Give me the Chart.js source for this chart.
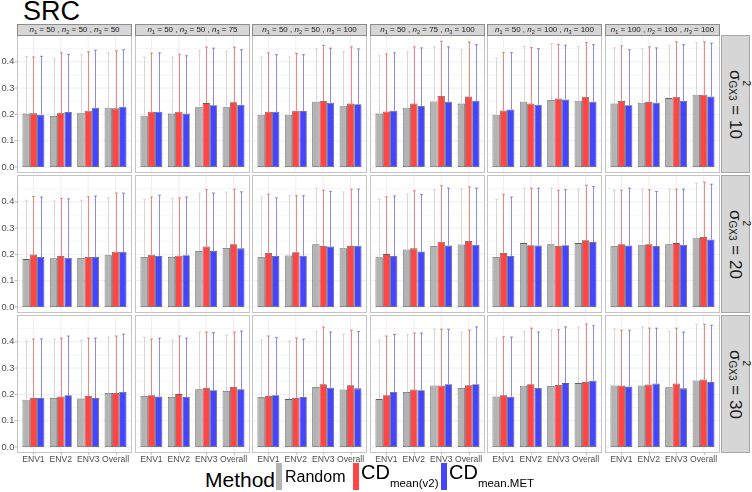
<!DOCTYPE html>
<html>
<head>
<meta charset="utf-8">
<script src="https://cdn.jsdelivr.net/npm/chart.js@4.4.1/dist/chart.umd.min.js"></script>
<style>
body{margin:0;width:752px;height:492px;position:relative;background:#fff;overflow:hidden;font-family:'Liberation Sans',Arial,sans-serif}
canvas{position:absolute}
.strip{position:absolute;box-sizing:border-box;background:#d6d6d6;border:1px solid #8c8c8c;color:#1a1a1a;font-size:8px;line-height:9px;text-align:center;white-space:nowrap}
.strip sub{font-size:5.6px;vertical-align:-1.5px;line-height:0}
.rstrip{position:absolute;box-sizing:border-box;background:#d6d6d6;border:1px solid #a6a6a6}
.rtext{position:absolute;width:138px;height:29px;line-height:29px;text-align:center;white-space:nowrap;color:#1a1a1a;font-size:17px;transform:rotate(90deg)}
.stack{display:inline-flex;flex-direction:column;align-items:flex-start;font-size:10px;line-height:10px;gap:4px;vertical-align:13px}
.txt{position:absolute;white-space:nowrap;line-height:1;color:#000}
.key{position:absolute;top:463px;width:6px;height:27px}
</style>
</head>
<body>
<div class="txt" style="left:23px;top:-2px;font-size:27px">SRC</div>
<script>
// facet labels
const envs = ['ENV1', 'ENV2', 'ENV3', 'Overall'];
const nSizes = [[50,50,50],[50,50,75],[50,50,100],[50,75,100],[50,100,100],[100,100,100]];
const sigmaGx3 = [10, 20, 30];
const yTicks = [0, 0.1, 0.2, 0.3, 0.4];
const legendLabels = [['Random',''], ['CD','mean(v2)'], ['CD','mean.MET']];

// means, [row][panel][env]
const randomMean = [
  [[0.203,0.194,0.206,0.223],[0.195,0.203,0.229,0.227],[0.199,0.199,0.248,0.233],[0.203,0.225,0.249,0.241],[0.199,0.248,0.255,0.252],[0.241,0.244,0.262,0.275]],
  [[0.182,0.185,0.186,0.197],[0.190,0.190,0.213,0.224],[0.190,0.196,0.239,0.223],[0.189,0.219,0.232,0.238],[0.190,0.243,0.239,0.243],[0.232,0.235,0.239,0.263]],
  [[0.180,0.186,0.184,0.205],[0.194,0.190,0.220,0.213],[0.190,0.182,0.228,0.219],[0.182,0.209,0.234,0.224],[0.192,0.233,0.232,0.243],[0.234,0.234,0.227,0.253]]
];
const v2Mean = [
  [[0.204,0.206,0.214,0.223],[0.210,0.210,0.243,0.246],[0.210,0.214,0.251,0.241],[0.211,0.241,0.270,0.268],[0.215,0.241,0.260,0.267],[0.251,0.247,0.267,0.275]],
  [[0.200,0.194,0.190,0.210],[0.199,0.195,0.230,0.239],[0.205,0.208,0.232,0.232],[0.201,0.223,0.248,0.251],[0.205,0.235,0.232,0.254],[0.239,0.239,0.243,0.266]],
  [[0.186,0.192,0.194,0.205],[0.197,0.201,0.224,0.228],[0.194,0.186,0.239,0.235],[0.197,0.219,0.234,0.235],[0.197,0.239,0.236,0.247],[0.234,0.238,0.241,0.257]]
];
const metMean = [
  [[0.199,0.209,0.225,0.229],[0.210,0.203,0.235,0.237],[0.210,0.213,0.244,0.239],[0.214,0.232,0.248,0.252],[0.219,0.237,0.257,0.248],[0.235,0.244,0.252,0.268]],
  [[0.190,0.187,0.190,0.210],[0.194,0.197,0.213,0.223],[0.194,0.195,0.230,0.233],[0.194,0.211,0.234,0.237],[0.194,0.234,0.235,0.247],[0.234,0.232,0.237,0.257]],
  [[0.186,0.197,0.186,0.209],[0.192,0.190,0.216,0.220],[0.197,0.190,0.225,0.223],[0.209,0.216,0.239,0.239],[0.191,0.224,0.243,0.252],[0.230,0.241,0.223,0.247]]
];

// upper ends of the error bars
const randomUpper = [
  [[0.420,0.411,0.427,0.434],[0.418,0.418,0.442,0.441],[0.418,0.418,0.449,0.439],[0.423,0.438,0.456,0.446],[0.414,0.458,0.469,0.458],[0.453,0.449,0.461,0.473]],
  [[0.406,0.403,0.406,0.415],[0.410,0.413,0.433,0.437],[0.418,0.423,0.452,0.437],[0.410,0.430,0.446,0.449],[0.410,0.452,0.452,0.448],[0.444,0.448,0.448,0.471]],
  [[0.403,0.410,0.406,0.418],[0.418,0.406,0.437,0.425],[0.408,0.403,0.440,0.429],[0.406,0.427,0.448,0.437],[0.414,0.441,0.446,0.456],[0.449,0.456,0.441,0.467]]
];
const v2Upper = [
  [[0.418,0.434,0.438,0.442],[0.433,0.429,0.456,0.456],[0.434,0.432,0.462,0.457],[0.430,0.457,0.478,0.475],[0.435,0.454,0.466,0.473],[0.461,0.457,0.476,0.476]],
  [[0.420,0.413,0.419,0.433],[0.418,0.415,0.446,0.448],[0.429,0.423,0.444,0.448],[0.419,0.442,0.461,0.457],[0.427,0.452,0.444,0.463],[0.444,0.446,0.448,0.475]],
  [[0.410,0.414,0.414,0.422],[0.410,0.422,0.437,0.437],[0.422,0.414,0.456,0.444],[0.422,0.433,0.448,0.444],[0.419,0.452,0.446,0.468],[0.444,0.452,0.452,0.467]]
];
const metUpper = [
  [[0.421,0.428,0.444,0.446],[0.434,0.423,0.452,0.446],[0.427,0.427,0.452,0.449],[0.434,0.453,0.457,0.465],[0.435,0.450,0.463,0.465],[0.446,0.453,0.465,0.471]],
  [[0.418,0.411,0.422,0.433],[0.425,0.418,0.433,0.438],[0.415,0.423,0.440,0.448],[0.422,0.428,0.452,0.452],[0.418,0.452,0.446,0.458],[0.452,0.439,0.448,0.467]],
  [[0.411,0.422,0.414,0.429],[0.414,0.414,0.435,0.441],[0.416,0.410,0.437,0.439],[0.428,0.433,0.448,0.457],[0.418,0.437,0.457,0.461],[0.444,0.452,0.437,0.463]]
];

const fills = ['#b3b3b3', '#ff4545', '#4545ff'];
const errColors = ['#d6d6d6', 'rgba(220,80,80,0.65)', 'rgba(80,80,220,0.65)'];

Chart.defaults.font.family = "'Liberation Sans', Arial, sans-serif";

const PL = [17, 135, 252, 370, 487, 605], PW = 115;
const PT = [35, 175, 315], PH = 138;
const inset = PW / 42;   // ggplot pads 0.6 of a category, chart.js 0.5
const xLabH = 13;

function panelPlugin(r, c) {
  const ups = [randomUpper[r][c], v2Upper[r][c], metUpper[r][c]];
  return {
    id: 'panel',
    beforeDatasetsDraw(chart) {
      const a = chart.chartArea, ctx = chart.ctx, ys = chart.scales.y, xs = chart.scales.x;
      const l = a.left - inset, rt = a.right + inset;
      ctx.save();
      ctx.lineWidth = 0.7;
      yTicks.forEach(v => {
        let y = ys.getPixelForValue(v + 0.05);
        ctx.strokeStyle = '#f2f2f2';
        ctx.beginPath(); ctx.moveTo(l, y); ctx.lineTo(rt, y); ctx.stroke();
        y = ys.getPixelForValue(v);
        ctx.strokeStyle = '#e6e6e6';
        ctx.beginPath(); ctx.moveTo(l, y); ctx.lineTo(rt, y); ctx.stroke();
      });
      envs.forEach((e, i) => {
        const x = xs.getPixelForValue(i);
        ctx.strokeStyle = '#e6e6e6';
        ctx.beginPath(); ctx.moveTo(x, a.top); ctx.lineTo(x, a.bottom); ctx.stroke();
      });
      ctx.restore();
    },
    afterDatasetsDraw(chart) {
      const ctx = chart.ctx, ys = chart.scales.y;
      ups.forEach((up, i) => {
        const meta = chart.getDatasetMeta(i);
        ctx.save();
        ctx.strokeStyle = errColors[i];
        ctx.lineWidth = 1;
        meta.data.forEach((bar, j) => {
          const x = Math.round(bar.x) + 0.5;
          const y1 = ys.getPixelForValue(up[j]);
          ctx.beginPath();
          ctx.moveTo(x, bar.y); ctx.lineTo(x, y1);
          ctx.moveTo(x - 1.5, y1); ctx.lineTo(x + 1.5, y1);
          ctx.stroke();
        });
        ctx.restore();
      });
    },
    afterDraw(chart) {
      const a = chart.chartArea, ctx = chart.ctx, ys = chart.scales.y, xs = chart.scales.x;
      ctx.save();
      ctx.strokeStyle = '#c4c4c4';
      ctx.lineWidth = 1;
      ctx.strokeRect(a.left - inset + 0.5, a.top + 0.5, a.right - a.left + 2 * inset - 1, a.bottom - a.top - 1);
      ctx.strokeStyle = '#b3b3b3';
      if (c === 0) {
        yTicks.forEach(v => {
          const y = ys.getPixelForValue(v);
          ctx.beginPath(); ctx.moveTo(a.left - inset - 2.5, y); ctx.lineTo(a.left - inset, y); ctx.stroke();
        });
      }
      if (r === 2) {
        envs.forEach((e, i) => {
          const x = Math.round(xs.getPixelForValue(i)) + 0.5;
          ctx.beginPath(); ctx.moveTo(x, a.bottom); ctx.lineTo(x, a.bottom + 1.6); ctx.stroke();
        });
      }
      ctx.restore();
    }
  };
}

for (let r = 0; r < 3; r++) {
  for (let c = 0; c < 6; c++) {
    const cv = document.createElement('canvas');
    const left = c === 0 ? 0 : PL[c];
    cv.width = PL[c] + PW - left;
    cv.height = PH + (r === 2 ? xLabH : 0);
    cv.style.left = left + 'px';
    cv.style.top = PT[r] + 'px';
    document.body.appendChild(cv);
    const yW = PL[c] - left + inset;

    new Chart(cv, {
      type: 'bar',
      data: {
        labels: envs,
        datasets: [randomMean, v2Mean, metMean].map((m, i) => ({
          label: legendLabels[i].join(''),
          data: m[r][c],
          backgroundColor: fills[i],
          borderColor: '#5c5c5c',
          borderWidth: 0.8,
          borderSkipped: false,
          categoryPercentage: 0.8,
          barPercentage: 1
        }))
      },
      options: {
        responsive: false,
        animation: false,
        devicePixelRatio: 1,
        layout: { padding: { left: 0, right: inset, top: 0, bottom: 0 } },
        plugins: { legend: { display: false }, tooltip: { enabled: false } },
        scales: {
          x: {
            grid: { display: false, drawTicks: false },
            border: { display: false },
            ticks: { display: r === 2, color: '#4d4d4d', font: { size: 8.6 }, padding: 1.5, maxRotation: 0, autoSkip: false },
            afterFit: s => { s.height = r === 2 ? xLabH : 0; s.paddingLeft = 0; s.paddingRight = 0; }
          },
          y: {
            min: -0.023,
            max: 0.502,
            afterBuildTicks: s => { s.ticks = yTicks.map(v => ({ value: v })); },
            grid: { display: false, drawTicks: false },
            border: { display: false },
            ticks: {
              display: c === 0, color: '#4d4d4d', font: { size: 9.3 }, padding: 5.4, autoSkip: false,
              callback: v => v.toFixed(1)
            },
            afterFit: s => { s.width = yW; s.paddingTop = 0; s.paddingBottom = 0; }
          }
        }
      },
      plugins: [panelPlugin(r, c)]
    });
  }
}

// strips
nSizes.forEach((n, c) => {
  const d = document.createElement('div');
  d.className = 'strip';
  d.style.left = PL[c] + 'px'; d.style.top = '24px'; d.style.width = PW + 'px'; d.style.height = '12px';
  d.innerHTML = n.map((v, k) => '<i>n</i><sub>' + (k + 1) + '</sub> = ' + v).join(' , ');
  document.body.appendChild(d);
});
sigmaGx3.forEach((s, r) => {
  const b = document.createElement('div');
  b.className = 'rstrip';
  b.style.left = '721px'; b.style.top = PT[r] + 'px'; b.style.width = '29px'; b.style.height = PH + 'px';
  document.body.appendChild(b);
  const t = document.createElement('div');
  t.className = 'rtext';
  t.style.left = (735.5 - PH / 2) + 'px'; t.style.top = (PT[r] + PH / 2 - 14.5) + 'px';
  t.innerHTML = '\u03c3<span class="stack"><span>2</span><span>GX3</span></span> = ' + s;
  document.body.appendChild(t);
});

// legend
function addText(html, left, top, size) {
  const d = document.createElement('div');
  d.className = 'txt';
  d.style.left = left + 'px'; d.style.top = top + 'px'; d.style.fontSize = size + 'px';
  d.innerHTML = html;
  document.body.appendChild(d);
}
addText('Method', 205, 469, 21);
const keyX = [276, 353, 441];
const labX = [285, 361, 449];
legendLabels.forEach((lb, i) => {
  const k = document.createElement('div');
  k.className = 'key';
  k.style.left = keyX[i] + 'px'; k.style.background = fills[i];
  document.body.appendChild(k);
  if (lb[1]) {
    addText(lb[0] + '<span style="font-size:11.5px;vertical-align:-7.5px">' + lb[1] + '</span>', labX[i], 461.6, 20);
  } else {
    addText(lb[0], labX[i], 468.5, 16);
  }
});
</script>
</body>
</html>
